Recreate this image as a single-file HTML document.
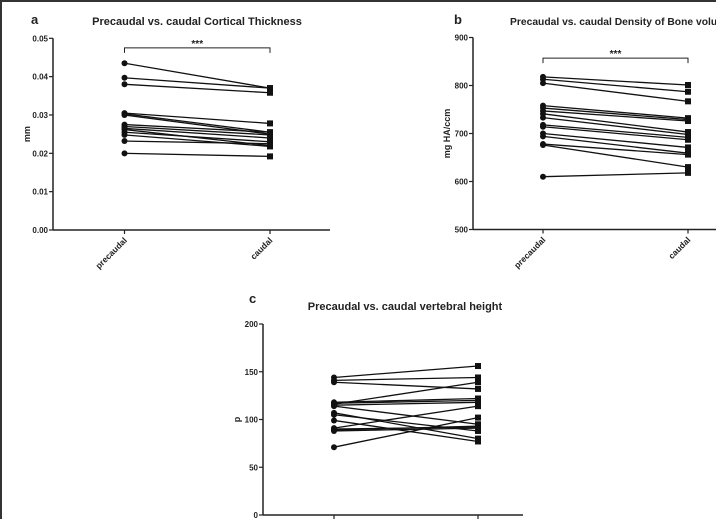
<!DOCTYPE html>
<html><head><meta charset="utf-8">
<style>
html,body{margin:0;padding:0;background:#fff;}
svg{display:block;font-family:"Liberation Sans",Arial,sans-serif;}
</style></head>
<body>
<svg id="fig" width="716" height="519" viewBox="0 0 716 519" xmlns="http://www.w3.org/2000/svg">
<line x1="1" y1="0" x2="1" y2="519" stroke="#333" stroke-width="2"/>
<line x1="0" y1="1" x2="716" y2="1" stroke="#333" stroke-width="2"/>
</svg>
<script>
const categories = ["precaudal","caudal"];
const aPre  = [0.0435,0.0397,0.0380,0.0305,0.0303,0.0300,0.0275,0.0270,0.0265,0.0262,0.0255,0.0248,0.0232,0.0200];
const aPost = [0.0370,0.0370,0.0358,0.0278,0.0255,0.0250,0.0255,0.0248,0.0240,0.0220,0.0230,0.0218,0.0225,0.0192];
const aTicks = ["0.00","0.01","0.02","0.03","0.04","0.05"];
const bPre  = [818,813,805,758,753,747,741,733,718,714,700,694,678,676,610];
const bPost = [801,787,767,732,729,726,703,698,692,687,671,659,656,630,618];
const bTicks = ["500","600","700","800","900"];
const cPre  = [144,141,139,116,118,117,115,114,107,105,99,91,90,89,88,71];
const cPost = [156,144,132,139,122,120,118,95,80,88,77,114,92,93,91,102];
const cTicks = ["0","50","100","150","200"];

const NS="http://www.w3.org/2000/svg";
const svg=document.getElementById('fig');
function el(tag,attrs,parent,text){const e=document.createElementNS(NS,tag);for(const k in attrs)e.setAttribute(k,attrs[k]);if(text!==undefined)e.textContent=text;(parent||svg).appendChild(e);return e;}

function panel(o){
  const g=el('g',{});
  
  
  const ticks=o.ticks.map(Number);
  const ymin=ticks[0], ymax=ticks[ticks.length-1];
  const ys=v=>o.y0-(v-ymin)/(ymax-ymin)*(o.y0-o.y1);
  const xs=i=>i===0?o.xPre:o.xPost;
  const L=el('text',{x:o.lx,y:o.ly,'font-size':13,'font-weight':'bold',fill:'#222'},g,o.id);
  
  
  const T=el('text',{x:o.tx,y:o.ty,'font-size':o.tSize||11,'font-weight':'bold',fill:'#222','text-anchor':o.tAnchor||'middle'},g,o.title);
  
  
  const ya=el('line',{x1:o.ax,y1:o.y1,x2:o.ax,y2:o.y0,stroke:'#222','stroke-width':1.5},g);
  
  
  const xa=el('line',{x1:o.ax,y1:o.y0,x2:o.axEnd,y2:o.y0,stroke:'#222','stroke-width':1.5},g);
  
  
  o.ticks.forEach(t=>{
    const y=ys(Number(t));
    el('line',{x1:o.ax-4,y1:y,x2:o.ax,y2:y,stroke:'#222','stroke-width':1.2},g);
    const tl=el('text',{x:o.ax-5,y:y+3,'font-size':8,'font-weight':'bold','text-anchor':'end',fill:'#222'},g,t);
    
    
  });
  const yt=el('text',{x:0,y:0,'font-size':9,'font-weight':'bold','text-anchor':'middle',fill:'#222',transform:`translate(${o.ytx},${(o.y0+o.y1)/2}) rotate(-90)`},g,o.ytitle);
  
  
  categories.forEach((c,i)=>{
    const x=xs(i);
    el('line',{x1:x,y1:o.y0,x2:x,y2:o.y0+4,stroke:'#222','stroke-width':1.2},g);
    if(o.xlabels){
      const xl=el('text',{x:0,y:0,'font-size':8.5,'font-weight':'bold','text-anchor':'end',fill:'#222',transform:`translate(${x+3},${o.y0+11}) rotate(-45)`},g,c);
      
      
    }
  });
  if(o.sig){
    const by=ys(o.sigY);
    const br=el('path',{d:`M${o.xPre},${by+5}V${by}H${o.xPost}V${by+5}`,fill:'none',stroke:'#222','stroke-width':1},g);
    
    
    const st=el('text',{x:(o.xPre+o.xPost)/2,y:by-1,'font-size':10,'font-weight':'bold','text-anchor':'middle',fill:'#222'},g,'***');
    
    
  }
  o.pre.forEach((v,k)=>{
    const w=o.post[k];
    const ln=el('line',{x1:xs(0),y1:ys(v),x2:xs(1),y2:ys(w),stroke:'#111','stroke-width':1.3},g);
    
    
    const c=el('circle',{cx:xs(0),cy:ys(v),r:3,fill:'#111'},g);
    
    
    const s=el('rect',{x:xs(1)-3,y:ys(w)-3,width:6,height:6,fill:'#111'},g);
    
    
  });
}

panel({id:'a',title:'Precaudal vs. caudal Cortical Thickness',lx:31,ly:24,tx:197,ty:25,
  ax:53,axEnd:330,y0:230,y1:38.3,xPre:124.5,xPost:270,ticks:aTicks,ytitle:'mm',ytx:30,
  pre:aPre,post:aPost,xlabels:true,sig:true,sigY:0.0475});
panel({id:'b',title:'Precaudal vs. caudal Density of Bone volume',lx:454,ly:24,tx:510,ty:25,tAnchor:'start',tSize:10.3,
  ax:473,axEnd:716,y0:229.5,y1:37.5,xPre:543,xPost:688,ticks:bTicks,ytitle:'mg HA/ccm',ytx:450,
  pre:bPre,post:bPost,xlabels:true,sig:true,sigY:857});
panel({id:'c',title:'Precaudal vs. caudal vertebral height',lx:249,ly:303,tx:405,ty:310,
  ax:263,axEnd:523,y0:515,y1:324,xPre:334,xPost:478,ticks:cTicks,ytitle:'p',ytx:240,
  pre:cPre,post:cPost,xlabels:false,sig:false});
</script>
</body></html>
